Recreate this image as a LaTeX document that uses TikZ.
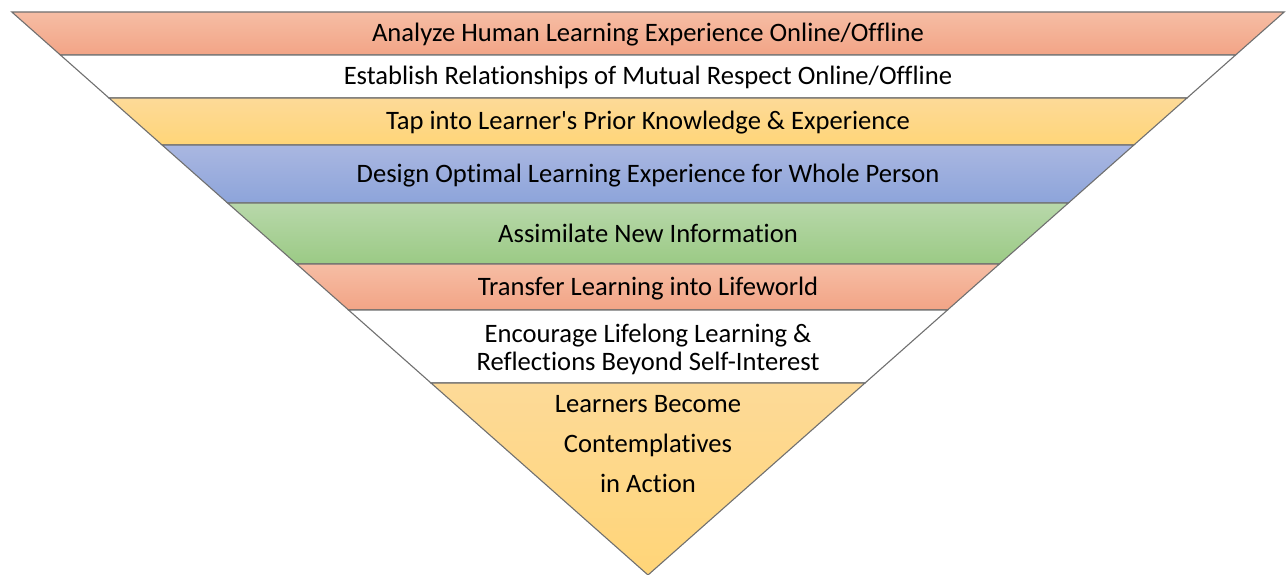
\documentclass[tikz,border=0pt]{standalone}
\usepackage{fontspec}
\setmainfont{Carlito}[Ligatures={TeX,NoCommon}]
\definecolor{edgegray}{HTML}{707070}
\definecolor{salmonTop}{HTML}{F6BDA4}
\definecolor{salmonBot}{HTML}{F2A486}
\definecolor{yellowTop}{HTML}{FDDA98}
\definecolor{yellowBot}{HTML}{FFD578}
\definecolor{blueTop}{HTML}{AAB7E1}
\definecolor{blueBot}{HTML}{8DA4DA}
\definecolor{greenTop}{HTML}{B8D8AA}
\definecolor{greenBot}{HTML}{9BCA85}
\begin{document}
\begin{tikzpicture}[x=1pt,y=-1pt,
  band/.style={draw=edgegray, line width=1.1pt, line join=miter},
  salmon/.style={band, top color=salmonTop, bottom color=salmonBot},
  yellow/.style={band, top color=yellowTop, bottom color=yellowBot},
  blue/.style={band, top color=blueTop, bottom color=blueBot},
  green/.style={band, top color=greenTop, bottom color=greenBot},
  plain/.style={band, fill=white},
  label/.style={font=\fontsize{26.6}{28}\selectfont, text=black, align=center, inner sep=0pt}]
\useasboundingbox (0,0) rectangle (1286,575);

% inverted pyramid, one band per level
\path[salmon] (11.8,12) -- (1284.2,12) -- (1235.6,55) -- (60.4,55) -- cycle;
\path[plain]  (60.4,55) -- (1235.6,55) -- (1187,98) -- (109,98) -- cycle;
\path[yellow] (109,98) -- (1187,98) -- (1133.9,145) -- (162.1,145) -- cycle;
\path[blue]   (162.1,145) -- (1133.9,145) -- (1068.4,203) -- (227.6,203) -- cycle;
\path[green]  (227.6,203) -- (1068.4,203) -- (999.4,264) -- (296.6,264) -- cycle;
\path[salmon] (296.6,264) -- (999.4,264) -- (947.5,310) -- (348.5,310) -- cycle;
\path[plain]  (348.5,310) -- (947.5,310) -- (865,383) -- (431,383) -- cycle;
\path[yellow] (431,383) -- (865,383) -- (648,575) -- cycle;

% level captions
\node[label, anchor=base] (t1) at (648,42) {Analyze Human Learning Experience Online/Offline};
\node[label, anchor=base] (t2) at (648,85) {Establish Relationships of Mutual Respect Online/Offline};
\node[label, anchor=base] (t3) at (648,130) {Tap into Learner\textquotesingle s Prior Knowledge \& Experience};
\node[label, anchor=base] (t4) at (648,182.5) {Design Optimal Learning Experience for Whole Person};
\node[label, anchor=base] (t5) at (648,242) {Assimilate New Information};
\node[label, anchor=base] (t6) at (648,295.5) {Transfer Learning into Lifeworld};
\node[label, anchor=base] (t7a) at (648,342) {Encourage Lifelong Learning \&};
\node[label, anchor=base] (t7b) at (648,370) {Reflections Beyond Self-Interest};
\node[label, anchor=base] (t8a) at (648,412) {Learners Become};
\node[label, anchor=base] (t8b) at (648,452) {Contemplatives};
\node[label, anchor=base] (t8c) at (648,492) {in Action};
\end{tikzpicture}
\end{document}
